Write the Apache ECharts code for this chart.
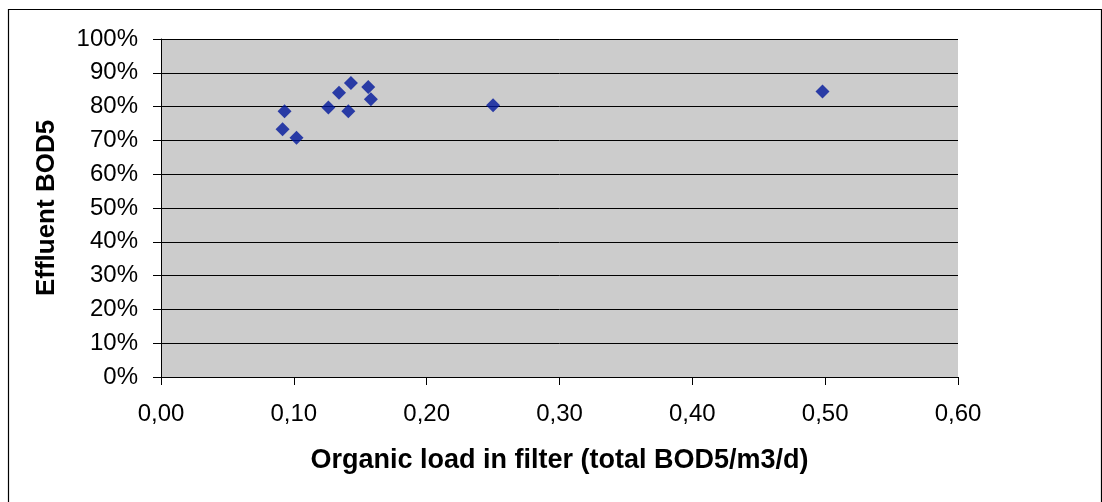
<!DOCTYPE html>
<html>
<head>
<meta charset="utf-8">
<script src="https://cdn.jsdelivr.net/npm/echarts@6/dist/echarts.min.js"></script>
<style>html,body{margin:0;padding:0;background:#fff}#c{width:1102px;height:502px}</style>
</head>
<body>
<div id="c"></div>
<script>
const organicLoad = [0.093, 0.0915, 0.102, 0.126, 0.134, 0.143, 0.141, 0.156, 0.158, 0.250, 0.498];
const effluentBOD5 = [0.786, 0.733, 0.708, 0.797, 0.841, 0.870, 0.786, 0.858, 0.822, 0.804, 0.845];
const xTitle = 'Organic load in filter (total BOD5/m3/d)';
const yTitle = 'Effluent BOD5';

const data = organicLoad.map((x, i) => [x, effluentBOD5[i]]);
const chart = echarts.init(document.getElementById('c'), null, {renderer: 'canvas'});
const font = '"Liberation Sans", Arial, sans-serif';
chart.setOption({
  animation: false,
  backgroundColor: '#ffffff',
  graphic: [{
    type: 'rect', left: 6, top: 7, z: -1,
    shape: {width: 1093, height: 493},
    style: {fill: 'none', stroke: '#000', lineWidth: 1.2}
  }],
  grid: {left: 161, right: 144, top: 39, bottom: 125, show: true, backgroundColor: '#cccccc', borderWidth: 0},
  xAxis: {
    type: 'value', min: 0, max: 0.6, interval: 0.1,
    name: xTitle, nameLocation: 'middle', nameGap: 70,
    nameTextStyle: {fontFamily: font, fontWeight: 'bold', fontSize: 27, color: '#000'},
    axisLine: {show: true, lineStyle: {color: '#000', width: 1}},
    axisTick: {show: true, length: 8, lineStyle: {color: '#000'}},
    axisLabel: {fontFamily: font, fontSize: 24, color: '#000', margin: 25,
      formatter: v => v.toFixed(2).replace('.', ',')},
    splitLine: {show: false}
  },
  yAxis: {
    type: 'value', min: 0, max: 1, interval: 0.1,
    name: yTitle, nameLocation: 'middle', nameGap: 101, nameRotate: 90,
    nameTextStyle: {fontFamily: font, fontWeight: 'bold', fontSize: 26, color: '#000'},
    axisLine: {show: true, lineStyle: {color: '#000', width: 1}},
    axisTick: {show: true, length: 8, lineStyle: {color: '#000'}},
    axisLabel: {fontFamily: font, fontSize: 24, color: '#000', margin: 23,
      formatter: v => Math.round(v * 100) + '%'},
    splitLine: {show: true, lineStyle: {color: '#000', width: 1}}
  },
  series: [{
    type: 'scatter', data: data, symbol: 'diamond', symbolSize: 14,
    itemStyle: {color: '#00169b'}
  }]
});
</script>
</body>
</html>
